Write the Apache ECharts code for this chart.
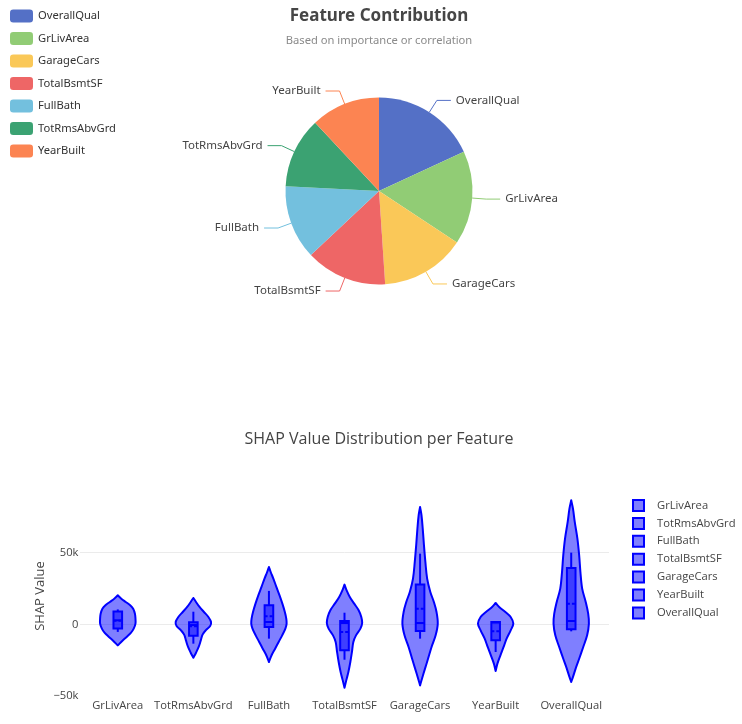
<!DOCTYPE html>
<html>
<head>
<meta charset="utf-8">
<title>Feature Contribution</title>
<script src="https://cdn.jsdelivr.net/npm/echarts@6/dist/echarts.min.js"></script>
<style>
  html, body { margin: 0; padding: 0; overflow: hidden; background: #fff; }
  #pie { position: absolute; left: 0; top: 0; width: 758px; height: 400px; }
  #violin { position: absolute; left: 0; top: 400px; width: 758px; height: 324px; }
</style>
</head>
<body>
<div id="pie"></div>
<div id="violin"></div>
<script>
// pie: correlation with sale price
const pieNames = ['OverallQual', 'GrLivArea', 'GarageCars', 'TotalBsmtSF', 'FullBath', 'TotRmsAbvGrd', 'YearBuilt'];
const pieValues = [0.791, 0.709, 0.640, 0.614, 0.561, 0.534, 0.523];
const pieColors = ['#5470c6', '#91cc75', '#fac858', '#ee6666', '#73c0de', '#3ba272', '#fc8452'];

// violin: features in plot order
const features = ['GrLivArea', 'TotRmsAbvGrd', 'FullBath', 'TotalBsmtSF', 'GarageCars', 'YearBuilt', 'OverallQual'];

// box stats, in thousands
const q1 = [-3.0, -7.9, -1.9, -18.1, -4.7, -11.2, -3.5];
const median = [2.8, -0.5, 1.6, 0.9, 0.9, 1.2, 2.3];
const q3 = [8.9, 1.4, 13.3, 2.3, 27.7, 1.6, 39.3];
const mean = [2.5, -1.4, 5.6, -5.3, 10.9, -4.9, 14.4];
const whiskerLow = [-5.3, -13.5, -10.0, -24.7, -10.0, -19.3, -4.9];
const whiskerHigh = [10.4, 8.8, 23.3, 8.1, 49.3, 1.6, 50.0];

// density outline: [value (k), relative half width]
const shapeGrLivArea = [[20.2, 0], [17.9, 0.2], [15.6, 0.45], [13.3, 0.7], [10.9, 0.87], [7.4, 0.97], [4.0, 1], [0.5, 1], [-3.0, 0.9], [-5.8, 0.75], [-8.8, 0.5], [-11.6, 0.25], [-14.7, 0]];
const shapeTotRmsAbvGrd = [[18.4, 0], [15.6, 0.15], [12.1, 0.35], [8.6, 0.6], [5.1, 0.85], [1.6, 1], [-1.2, 0.95], [-4.2, 0.7], [-7.2, 0.52], [-11.2, 0.42], [-15.8, 0.3], [-19.8, 0.15], [-23.3, 0]];
const shapeFullBath = [[40.0, 0], [36.5, 0.1], [31.9, 0.25], [26.1, 0.42], [20.2, 0.6], [14.4, 0.76], [8.6, 0.9], [4.0, 0.98], [0.5, 1], [-3.0, 0.93], [-7.7, 0.75], [-12.3, 0.55], [-17.0, 0.35], [-21.6, 0.15], [-26.3, 0]];
const shapeTotalBsmtSF = [[27.7, 0], [23.7, 0.12], [19.1, 0.3], [14.4, 0.55], [9.8, 0.8], [5.1, 0.95], [0.9, 1], [-3.0, 0.9], [-7.7, 0.65], [-12.3, 0.5], [-19.3, 0.42], [-26.3, 0.33], [-33.3, 0.22], [-39.1, 0.1], [-44.2, 0]];
const shapeGarageCars = [[81.9, 0], [76.1, 0.08], [66.8, 0.15], [55.1, 0.22], [43.5, 0.3], [31.9, 0.4], [22.6, 0.58], [15.6, 0.78], [8.6, 0.93], [0.5, 1], [-7.7, 0.88], [-15.8, 0.65], [-24.0, 0.45], [-30.9, 0.28], [-37.4, 0.12], [-42.6, 0]];
const shapeYearBuilt = [[14.9, 0], [12.1, 0.2], [8.6, 0.55], [5.1, 0.85], [0.5, 1], [-4.2, 0.85], [-10.0, 0.62], [-15.8, 0.45], [-21.6, 0.27], [-27.4, 0.1], [-32.6, 0]];
const shapeOverallQual = [[86.5, 0], [80.7, 0.1], [71.4, 0.2], [59.8, 0.35], [48.1, 0.45], [36.5, 0.52], [24.9, 0.62], [15.6, 0.82], [7.4, 0.96], [0.5, 1], [-7.7, 0.9], [-15.8, 0.68], [-24.0, 0.45], [-30.9, 0.25], [-36.7, 0.1], [-40.2, 0]];
const shapes = [shapeGrLivArea, shapeTotRmsAbvGrd, shapeFullBath, shapeTotalBsmtSF, shapeGarageCars, shapeYearBuilt, shapeOverallQual];

const yTicks = [-50000, 0, 50000];

const pieFont = 'Noto Sans, sans-serif';
const plotFont = 'Open Sans, verdana, arial, sans-serif';
const blue = '#0000ff';
const fillBlue = 'rgba(0,0,255,0.5)';

const pieOption = {
  color: pieColors,
  title: {
    text: 'Feature Contribution',
    subtext: 'Based on importance or correlation',
    left: 'center',
    top: 3,
    itemGap: 10,
    textStyle: { fontFamily: pieFont, fontSize: 17, fontWeight: 'bold', color: '#464646' },
    subtextStyle: { fontFamily: pieFont, fontSize: 11.2, color: '#8a8a8a' }
  },
  legend: {
    orient: 'vertical',
    left: 5,
    top: 4.5,
    itemWidth: 23,
    itemHeight: 13,
    itemGap: 9.5,
    textStyle: { fontFamily: pieFont, fontSize: 11.2, color: '#333', lineHeight: 13 }
  },
  series: [{
    name: 'Contribution',
    type: 'pie',
    center: ['50%', 191],
    radius: 93.5,
    label: { fontFamily: pieFont, fontSize: 11.5, color: '#444' },
    labelLine: { length: 14, length2: 14 },
    data: pieNames.map((n, i) => ({ name: n, value: pieValues[i] }))
  }]
};

const violinSeries = features.map((f, i) => ({
  name: f,
  type: 'custom',
  data: [[i, 0]],
  itemStyle: { color: fillBlue, borderColor: blue, borderWidth: 2 },
  renderItem: (params, api) => {
    const band = api.size([1, 0])[0];
    const cx = api.coord([i, 0])[0];
    const y = (k) => api.coord([i, k * 1000])[1];
    const maxHalf = band * 0.234;
    const bw = band * 0.057;
    const prof = shapes[i];
    const right = prof.map(p => [cx + p[1] * maxHalf, y(p[0])]);
    const left = prof.slice().reverse().map(p => [cx - p[1] * maxHalf, y(p[0])]);
    const lineStyle = { stroke: blue, lineWidth: 2 };
    return {
      type: 'group',
      children: [
        {
          type: 'polygon',
          shape: { points: right.concat(left), smooth: 0.35 },
          style: { fill: fillBlue, stroke: blue, lineWidth: 2, lineJoin: 'round' }
        },
        { type: 'line', shape: { x1: cx, y1: y(whiskerHigh[i]), x2: cx, y2: y(q3[i]) }, style: lineStyle },
        { type: 'line', shape: { x1: cx, y1: y(q1[i]), x2: cx, y2: y(whiskerLow[i]) }, style: lineStyle },
        {
          type: 'rect',
          shape: { x: cx - bw, y: y(q3[i]), width: bw * 2, height: y(q1[i]) - y(q3[i]) },
          style: { fill: fillBlue, stroke: blue, lineWidth: 2 }
        },
        { type: 'line', shape: { x1: cx - bw, y1: y(median[i]), x2: cx + bw, y2: y(median[i]) }, style: lineStyle },
        {
          type: 'line',
          shape: { x1: cx - bw, y1: y(mean[i]), x2: cx + bw, y2: y(mean[i]) },
          style: { stroke: blue, lineWidth: 2, lineDash: [3, 2] }
        }
      ]
    };
  }
}));

const violinOption = {
  title: {
    text: 'SHAP Value Distribution per Feature',
    left: 'center',
    top: 26,
    textStyle: { fontFamily: plotFont, fontSize: 16, fontWeight: 'normal', color: '#444' }
  },
  legend: {
    orient: 'vertical',
    left: 627,
    top: 94,
    icon: 'rect',
    itemWidth: 11,
    itemHeight: 11,
    itemGap: 4.9,
    data: features,
    itemStyle: { color: fillBlue, borderColor: blue, borderWidth: 2 },
    textStyle: { fontFamily: plotFont, fontSize: 11.2, color: '#444', lineHeight: 12, padding: [0, 0, 0, 8] }
  },
  grid: { left: 80, right: 149, top: 96, bottom: 28 },
  xAxis: {
    type: 'category',
    data: features,
    axisLine: { show: false },
    axisTick: { show: false },
    axisLabel: { interval: 0, fontFamily: plotFont, fontSize: 11.2, color: '#444', margin: 4 }
  },
  yAxis: {
    type: 'value',
    min: yTicks[0],
    max: 89500,
    interval: 50000,
    name: 'SHAP Value',
    nameLocation: 'middle',
    nameRotate: 90,
    nameGap: 33,
    nameMoveOverlap: false,
    nameTextStyle: { fontFamily: plotFont, fontSize: 13, color: '#444' },
    axisLine: { show: false },
    axisTick: { show: false },
    axisLabel: {
      fontFamily: plotFont, fontSize: 11.2, color: '#444', margin: 1.5,
      formatter: v => yTicks.indexOf(v) < 0 ? '' : (v === 0 ? '0' : (v < 0 ? '\u2212' : '') + Math.abs(v / 1000) + 'k')
    },
    splitLine: { lineStyle: { color: ['rgba(0,0,0,0)', '#ebebeb', '#ebebeb', 'rgba(0,0,0,0)'], width: 1 } }
  },
  series: violinSeries
};

echarts.init(document.getElementById('pie')).setOption(pieOption);
echarts.init(document.getElementById('violin')).setOption(violinOption);
</script>
</body>
</html>
